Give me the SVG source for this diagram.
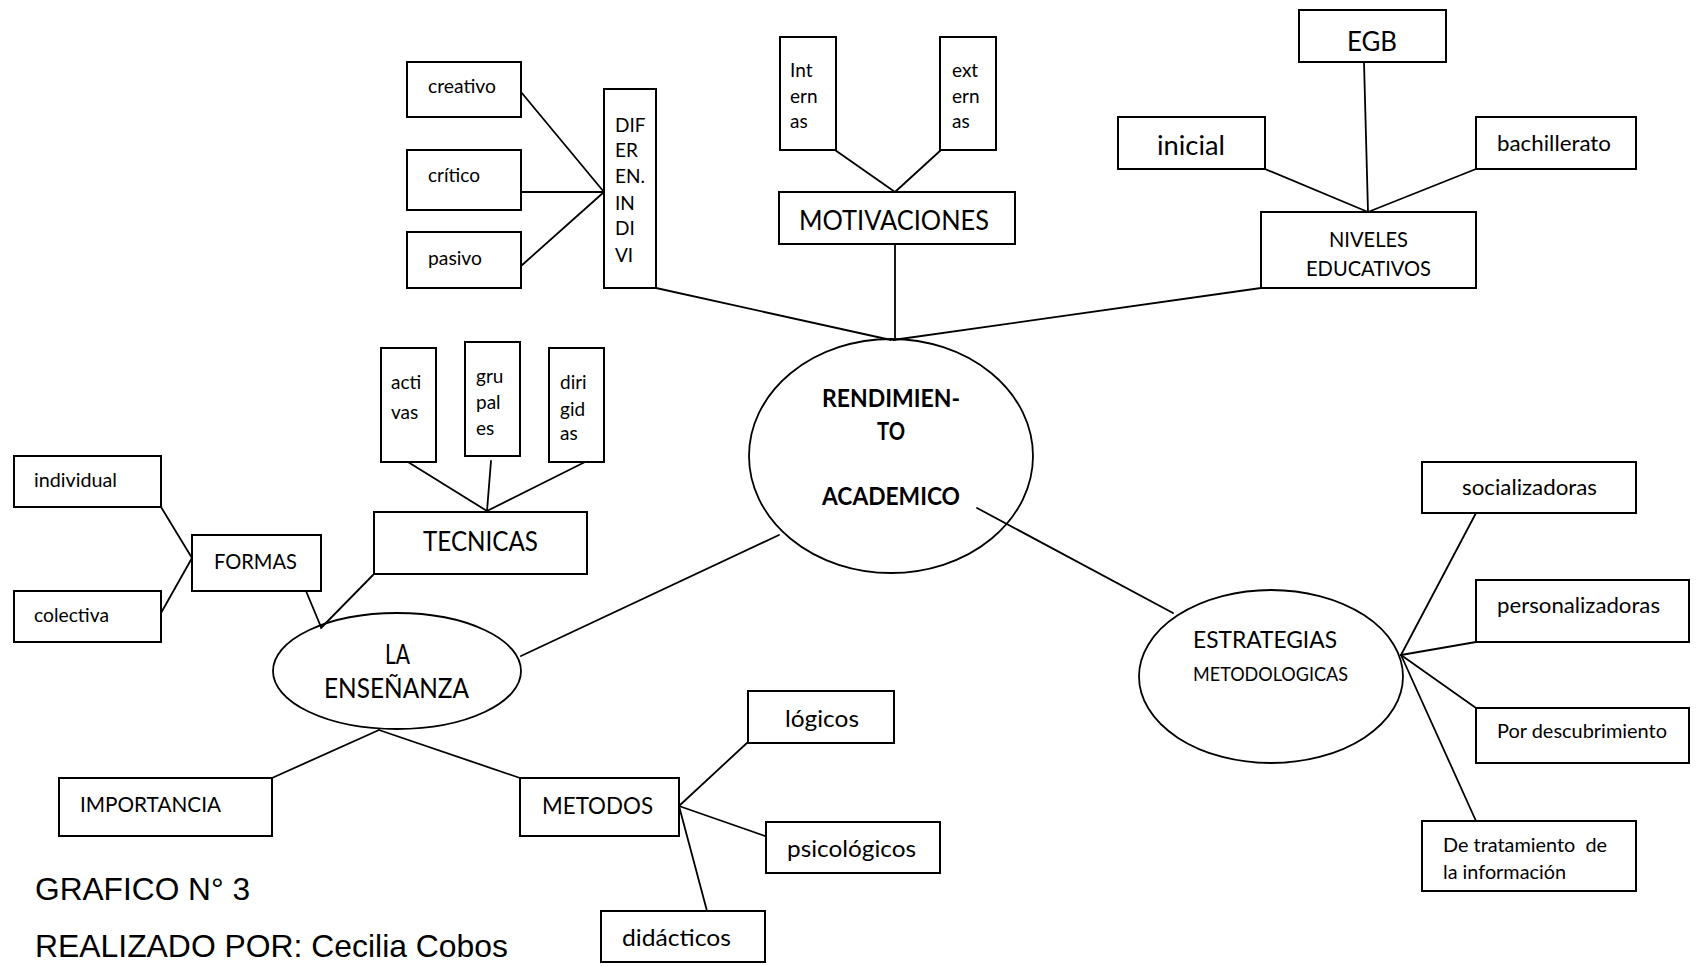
<svg xmlns="http://www.w3.org/2000/svg" width="1698" height="966" viewBox="0 0 1698 966">
<style>
.box{fill:#fff;stroke:#000;stroke-width:2}
.ell{fill:#fff;stroke:#000;stroke-width:1.8}
#connectors line{stroke:#000;stroke-width:1.8;stroke-linecap:round}
text{font-family:Lato,"Open Sans",sans-serif;fill:#000}
.xs{font-size:19px}
.s{font-size:21.3px}
.m{font-size:24px}
.l{font-size:26px}
.b{font-weight:bold}
.mid{text-anchor:middle}
.ar{font-family:"Liberation Sans",Arial,sans-serif;font-size:32px}
</style>
<rect width="1698" height="966" fill="#fff"/>

<g id="n-creativo"><rect class="box" x="407" y="62" width="114" height="55"/><text class="xs" x="428" y="93" textLength="68" lengthAdjust="spacingAndGlyphs">creativo</text></g>
<g id="n-critico"><rect class="box" x="407" y="150" width="114" height="60"/><text class="xs" x="428" y="182" textLength="52" lengthAdjust="spacingAndGlyphs">crítico</text></g>
<g id="n-pasivo"><rect class="box" x="407" y="232" width="114" height="56"/><text class="xs" x="428" y="265" textLength="54" lengthAdjust="spacingAndGlyphs">pasivo</text></g>
<g id="n-diferen"><rect class="box" x="604" y="89" width="52" height="199"/>
<text class="xs" x="615" y="132">DIF</text><text class="xs" x="615" y="157">ER</text><text class="xs" x="615" y="183">EN.</text><text class="xs" x="615" y="210">IN</text><text class="xs" x="615" y="235">DI</text><text class="xs" x="615" y="262">VI</text></g>
<g id="n-internas"><rect class="box" x="780" y="37" width="56" height="113"/>
<text class="xs" x="790" y="77">Int</text><text class="xs" x="790" y="103">ern</text><text class="xs" x="790" y="128">as</text></g>
<g id="n-externas"><rect class="box" x="940" y="37" width="56" height="113"/>
<text class="xs" x="952" y="77">ext</text><text class="xs" x="952" y="103">ern</text><text class="xs" x="952" y="128">as</text></g>
<g id="n-motivaciones"><rect class="box" x="779" y="192" width="236" height="52"/><text class="l" x="799" y="230" textLength="190" lengthAdjust="spacingAndGlyphs">MOTIVACIONES</text></g>
<g id="n-egb"><rect class="box" x="1299" y="10" width="147" height="52"/><text class="l" x="1347" y="51" textLength="50" lengthAdjust="spacingAndGlyphs">EGB</text></g>
<g id="n-inicial"><rect class="box" x="1118" y="117" width="147" height="52"/><text class="l" x="1157" y="155" textLength="68" lengthAdjust="spacingAndGlyphs">inicial</text></g>
<g id="n-bachillerato"><rect class="box" x="1476" y="117" width="160" height="52"/><text class="s" x="1497" y="151" textLength="114" lengthAdjust="spacingAndGlyphs">bachillerato</text></g>
<g id="n-niveles"><rect class="box" x="1261" y="212" width="215" height="76"/>
<text class="s" x="1329" y="247" textLength="79" lengthAdjust="spacingAndGlyphs">NIVELES</text><text class="s" x="1306" y="276" textLength="125" lengthAdjust="spacingAndGlyphs">EDUCATIVOS</text></g>

<g id="n-rendimiento"><ellipse class="ell" cx="891" cy="456" rx="142" ry="117"/>
<text class="m b" x="822" y="407" textLength="138" lengthAdjust="spacingAndGlyphs">RENDIMIEN-</text><text class="m b" x="877" y="440" textLength="28" lengthAdjust="spacingAndGlyphs">TO</text><text class="m b" x="822" y="505" textLength="138" lengthAdjust="spacingAndGlyphs">ACADEMICO</text></g>

<g id="n-activas"><rect class="box" x="381" y="348" width="55" height="114"/>
<text class="xs" x="391" y="389">acti</text><text class="xs" x="391" y="419">vas</text></g>
<g id="n-grupales"><rect class="box" x="465" y="342" width="55" height="114"/>
<text class="xs" x="476" y="383">gru</text><text class="xs" x="476" y="409">pal</text><text class="xs" x="476" y="435">es</text></g>
<g id="n-dirigidas"><rect class="box" x="549" y="348" width="55" height="114"/>
<text class="xs" x="560" y="389">diri</text><text class="xs" x="560" y="416">gid</text><text class="xs" x="560" y="440">as</text></g>
<g id="n-tecnicas"><rect class="box" x="374" y="512" width="213" height="62"/><text class="l" x="423" y="551" textLength="115" lengthAdjust="spacingAndGlyphs">TECNICAS</text></g>
<g id="n-formas"><rect class="box" x="192" y="535" width="129" height="56"/><text class="s" x="214" y="569" textLength="83" lengthAdjust="spacingAndGlyphs">FORMAS</text></g>
<g id="n-individual"><rect class="box" x="14" y="456" width="147" height="51"/><text class="xs" x="34" y="487" textLength="83" lengthAdjust="spacingAndGlyphs">individual</text></g>
<g id="n-colectiva"><rect class="box" x="14" y="591" width="147" height="51"/><text class="xs" x="34" y="622" textLength="75" lengthAdjust="spacingAndGlyphs">colectiva</text></g>

<g id="n-ensenanza"><ellipse class="ell" cx="397" cy="671" rx="124" ry="58"/>
<text class="l" x="385" y="664" textLength="25" lengthAdjust="spacingAndGlyphs">LA</text><text class="l" x="324" y="698" textLength="145" lengthAdjust="spacingAndGlyphs">ENSEÑANZA</text></g>
<g id="n-importancia"><rect class="box" x="59" y="778" width="213" height="58"/><text class="s" x="80" y="812" textLength="141" lengthAdjust="spacingAndGlyphs">IMPORTANCIA</text></g>
<g id="n-metodos"><rect class="box" x="520" y="778" width="159" height="58"/><text class="m" x="542" y="814" textLength="111" lengthAdjust="spacingAndGlyphs">METODOS</text></g>
<g id="n-logicos"><rect class="box" x="748" y="691" width="146" height="52"/><text class="m" x="785" y="727" textLength="74" lengthAdjust="spacingAndGlyphs">lógicos</text></g>
<g id="n-psicologicos"><rect class="box" x="766" y="822" width="174" height="51"/><text class="m" x="787" y="857" textLength="129" lengthAdjust="spacingAndGlyphs">psicológicos</text></g>
<g id="n-didacticos"><rect class="box" x="601" y="911" width="164" height="51"/><text class="m" x="622" y="946" textLength="109" lengthAdjust="spacingAndGlyphs">didácticos</text></g>

<g id="n-estrategias"><ellipse class="ell" cx="1271" cy="676.5" rx="132" ry="86.5"/>
<text class="m" x="1193" y="648" textLength="144" lengthAdjust="spacingAndGlyphs">ESTRATEGIAS</text><text class="xs" x="1193" y="681" textLength="155" lengthAdjust="spacingAndGlyphs">METODOLOGICAS</text></g>
<g id="n-socializadoras"><rect class="box" x="1422" y="462" width="214" height="51"/><text class="s" x="1462" y="495" textLength="135" lengthAdjust="spacingAndGlyphs">socializadoras</text></g>
<g id="n-personalizadoras"><rect class="box" x="1476" y="580" width="213" height="62"/><text class="s" x="1497" y="613" textLength="163" lengthAdjust="spacingAndGlyphs">personalizadoras</text></g>
<g id="n-descubrimiento"><rect class="box" x="1476" y="708" width="213" height="55"/><text class="xs" x="1497" y="738" textLength="170" lengthAdjust="spacingAndGlyphs">Por descubrimiento</text></g>
<g id="n-tratamiento"><rect class="box" x="1422" y="821" width="214" height="70"/>
<text class="xs" x="1443" y="852" xml:space="preserve" textLength="164" lengthAdjust="spacingAndGlyphs">De tratamiento  de</text><text class="xs" x="1443" y="879" textLength="123" lengthAdjust="spacingAndGlyphs">la información</text></g>

<g id="connectors">
<line x1="521" y1="92" x2="604" y2="192"/>
<line x1="521" y1="192" x2="604" y2="192"/>
<line x1="521" y1="266" x2="604" y2="192"/>
<line x1="656" y1="288" x2="891" y2="340"/>
<line x1="835" y1="150" x2="895" y2="192"/>
<line x1="941" y1="150" x2="895" y2="192"/>
<line x1="895" y1="244" x2="895" y2="340"/>
<line x1="1265" y1="169" x2="1368" y2="212"/>
<line x1="1364" y1="62" x2="1368" y2="212"/>
<line x1="1476" y1="169" x2="1368" y2="212"/>
<line x1="1261" y1="288" x2="893" y2="340"/>
<line x1="977" y1="508" x2="1173" y2="613"/>
<line x1="779" y1="535" x2="521" y2="656"/>
<line x1="408" y1="462" x2="487" y2="511"/>
<line x1="491" y1="461" x2="487" y2="511"/>
<line x1="585" y1="462" x2="487" y2="511"/>
<line x1="306" y1="591" x2="321" y2="627"/>
<line x1="373" y1="575" x2="321" y2="628"/>
<line x1="161" y1="507" x2="192" y2="558"/>
<line x1="161" y1="613" x2="192" y2="558"/>
<line x1="379" y1="730" x2="272" y2="778"/>
<line x1="379" y1="730" x2="520" y2="778"/>
<line x1="679" y1="806" x2="748" y2="742"/>
<line x1="679" y1="806" x2="765" y2="836"/>
<line x1="679" y1="806" x2="707" y2="911"/>
<line x1="1401" y1="655" x2="1476" y2="513"/>
<line x1="1401" y1="655" x2="1476" y2="642"/>
<line x1="1401" y1="655" x2="1476" y2="708"/>
<line x1="1401" y1="655" x2="1476" y2="821"/>
</g>

<g id="caption">
<text class="ar" x="35" y="900" textLength="215" lengthAdjust="spacingAndGlyphs">GRAFICO N° 3</text>
<text class="ar" x="35" y="957" textLength="473" lengthAdjust="spacingAndGlyphs">REALIZADO POR: Cecilia Cobos</text>
</g>
</svg>
